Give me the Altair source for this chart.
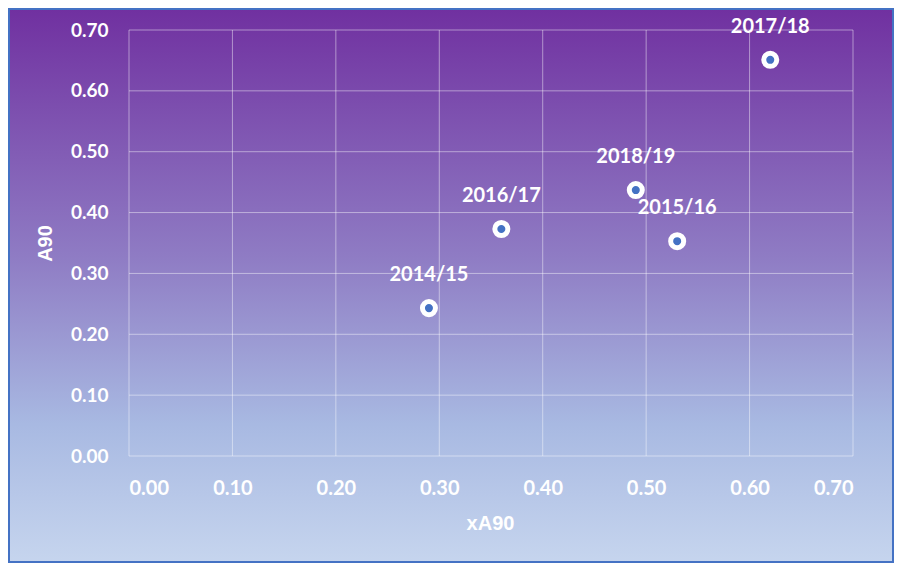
import altair as alt
import pandas as pd

seasons = ["2014/15", "2015/16", "2016/17", "2017/18", "2018/19"]
xa90 = [0.29, 0.53, 0.36, 0.62, 0.49]
a90 = [0.243, 0.353, 0.373, 0.651, 0.437]
ticks = [0.0, 0.1, 0.2, 0.3, 0.4, 0.5, 0.6, 0.7]

df = pd.DataFrame({"season": seasons, "xA90": xa90, "A90": a90})
tick_df = pd.DataFrame({"t": ticks})
bg_df = pd.DataFrame({"k": [0]})

W, H = 724, 426
PL, PT, PR, PB = 121, 22, 41, 107
FONT = "Lato"

xs = alt.Scale(domain=[0, 0.7], nice=False, zero=True)
ys = alt.Scale(domain=[0, 0.7], nice=False, zero=True)

bg = alt.Chart(bg_df).mark_rect(
    fill=alt.Gradient(
        gradient="linear",
        stops=[
            alt.GradientStop(offset=0, color="#7030a0"),
            alt.GradientStop(offset=0.45, color="#8f7cc4"),
            alt.GradientStop(offset=0.75, color="#a8b9e2"),
            alt.GradientStop(offset=1, color="#c6d5ee"),
        ],
        x1=0, x2=0, y1=0, y2=1,
    ),
    stroke="#4472c4",
    strokeWidth=4,
).encode(
    x=alt.value(-PL), x2=alt.value(W + PR),
    y=alt.value(-PT), y2=alt.value(H + PB),
)

vgrid = alt.Chart(tick_df).mark_rule(color="white", opacity=0.45, strokeWidth=1).encode(
    x=alt.X("t:Q", scale=xs, title="xA90",
            axis=alt.Axis(values=ticks, format=".2f", grid=False, domain=False, ticks=False,
                          labelPadding=22, titleX=W / 2 - 1, titleY=67, zindex=2,
                          titleAlign="center", titleBaseline="middle")),
)
hgrid = alt.Chart(tick_df).mark_rule(color="white", opacity=0.45, strokeWidth=1).encode(
    y=alt.Y("t:Q", scale=ys, title="A90",
            axis=alt.Axis(values=ticks, format=".2f", grid=False, domain=False, ticks=False,
                          labelPadding=21, titleX=-84, titleY=H / 2, zindex=2,
                          titleAlign="center", titleBaseline="middle")),
)

pts = alt.Chart(df).mark_point(
    shape="circle", filled=True, fill="#4472c4", stroke="white", strokeWidth=5,
    size=170, opacity=1,
).encode(
    x=alt.X("xA90:Q", scale=xs),
    y=alt.Y("A90:Q", scale=ys),
)

labels = alt.Chart(df).mark_text(
    font=FONT, fontWeight="bold", fontSize=20, color="white", dy=-33,
    align="center", baseline="middle",
).encode(
    x=alt.X("xA90:Q", scale=xs),
    y=alt.Y("A90:Q", scale=ys),
    text="season:N",
)

chart = alt.layer(bg, vgrid, hgrid, pts, labels).properties(
    width=W, height=H,
    autosize=alt.AutoSizeParams(type="none"),
    padding={"left": PL, "top": PT, "right": PR, "bottom": PB},
).configure_view(stroke=None).configure_axis(
    labelColor="white", labelFont=FONT, labelFontWeight="bold", labelFontSize=19,
    titleColor="white", titleFont="Liberation Sans", titleFontWeight="bold", titleFontSize=20,
).configure_axisX(labelFontSize=20)

chart.save("out.html", embed_options={"renderer": "svg", "actions": False})
